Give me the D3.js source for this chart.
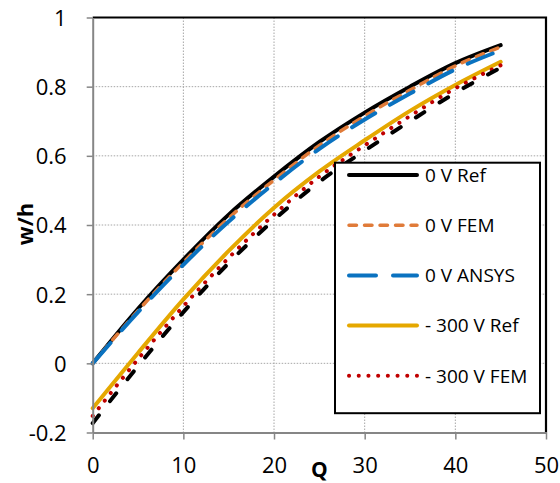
<!DOCTYPE html>
<html>
<head>
<meta charset="utf-8">
<script src="https://cdn.jsdelivr.net/npm/d3@7"></script>
<style>
  body { margin: 0; background: #fff; }
  svg { font-family: "Open Sans", sans-serif; }
</style>
</head>
<body>
<svg id="chart" width="560" height="483"></svg>
<script>
// data
const qValues = [0, 5, 10, 15, 20, 25, 30, 35, 40, 45]
const ref0 = [0, 0.158, 0.30, 0.43, 0.54, 0.64, 0.725, 0.80, 0.868, 0.92]
const fem0 = [0, 0.152, 0.292, 0.42, 0.53, 0.63, 0.715, 0.79, 0.86, 0.915]
const ansys0 = [0, 0.148, 0.285, 0.41, 0.52, 0.62, 0.705, 0.78, 0.85, 0.905]
const ref300 = [-0.13, 0.03, 0.185, 0.325, 0.45, 0.555, 0.645, 0.73, 0.805, 0.872]
const fem300 = [-0.152, 0.012, 0.165, 0.305, 0.43, 0.54, 0.63, 0.715, 0.795, 0.862]
const ansys300 = [-0.173, -0.008, 0.148, 0.29, 0.415, 0.525, 0.615, 0.70, 0.782, 0.855]

const seriesNames = ['0 V Ref', '0 V FEM', '0 V ANSYS', '- 300 V Ref', '- 300 V FEM', '- 300 V ANSYS']
const seriesValues = [ref0, fem0, ansys0, ref300, fem300, ansys300]
const legendNames = ['0 V Ref', '0 V FEM', '0 V ANSYS', '- 300 V Ref', '- 300 V FEM']

const xTicks = [0, 10, 20, 30, 40, 50]
const yTicks = [-0.2, 0, 0.2, 0.4, 0.6, 0.8, 1]

const styles = {
    '0 V Ref': { color: '#000000', width: 4, dash: null, cap: 'round' },
    '0 V FEM': { color: '#E07B39', width: 3.5, dash: '7.5,8', cap: 'round' },
    '0 V ANSYS': { color: '#0A72C0', width: 4, dash: '27,17', cap: 'round' },
    '- 300 V Ref': { color: '#E5A800', width: 4, dash: null, cap: 'round' },
    '- 300 V FEM': { color: '#C00000', width: 4, dash: '0.1,9.6', cap: 'round' },
    '- 300 V ANSYS': { color: '#000000', width: 4, dash: '10,18', cap: 'round' }
}

const margin = { left: 92.7, top: 17.5 }
const width = 453.3
const height = 415

const svg = d3.select('#chart')
const g = svg.append('g').attr('transform', 'translate(' + margin.left + ',' + margin.top + ')')

const x = d3.scaleLinear().domain([0, 50]).range([0, width])
const y = d3.scaleLinear().domain([-0.2, 1]).range([height, 0])

// grid
g.append('g').selectAll('line').data(xTicks.slice(1, -1)).join('line')
    .attr('x1', d => x(d)).attr('x2', d => x(d))
    .attr('y1', 0).attr('y2', height)
    .attr('stroke', '#a6a6a6').attr('stroke-width', 1).attr('stroke-dasharray', '1.5,1.5')
g.append('g').selectAll('line').data(yTicks.slice(1, -1)).join('line')
    .attr('y1', d => y(d)).attr('y2', d => y(d))
    .attr('x1', 0).attr('x2', width)
    .attr('stroke', '#a6a6a6').attr('stroke-width', 1).attr('stroke-dasharray', '1.5,1.5')

// plot border (top/right black)
g.append('path')
    .attr('d', 'M0,0H' + width + 'V' + height)
    .attr('fill', 'none').attr('stroke', '#000').attr('stroke-width', 2.2)

// series
const line = d3.line()
    .x((d, i) => x(qValues[i]))
    .y(d => y(d))
    .curve(d3.curveMonotoneX)

seriesNames.forEach((name, i) => {
    const s = styles[name]
    g.append('path')
        .datum(seriesValues[i])
        .attr('d', line)
        .attr('fill', 'none')
        .attr('stroke', s.color)
        .attr('stroke-width', s.width)
        .attr('stroke-linecap', s.cap)
        .attr('stroke-dasharray', s.dash)
})

// axes
const xAxis = g.append('g').attr('transform', 'translate(0,' + height + ')')
    .call(d3.axisBottom(x).tickValues(xTicks).tickSizeInner(7).tickSizeOuter(0).tickPadding(18).tickFormat(d => String(d)))
const yAxis = g.append('g')
    .call(d3.axisLeft(y).tickValues(yTicks).tickSizeInner(6).tickSizeOuter(0).tickPadding(20).tickFormat(d => String(d)))

;[xAxis, yAxis].forEach(ax => {
    ax.select('.domain').attr('stroke', '#868686').attr('stroke-width', 2)
    ax.selectAll('.tick line').attr('stroke', '#868686').attr('stroke-width', 1.5)
    ax.selectAll('.tick text').attr('font-size', 22).attr('fill', '#000')
        .attr('font-family', '"Open Sans", sans-serif')
})
yAxis.selectAll('.tick text').attr('dy', '0.36em')

// axis titles
svg.append('text')
    .text('w/h')
    .attr('font-size', 22).attr('font-weight', 'bold')
    .attr('text-anchor', 'middle')
    .attr('transform', 'translate(33,224) rotate(-90)')
svg.append('text')
    .text('Q')
    .attr('font-size', 21).attr('font-weight', 'bold')
    .attr('text-anchor', 'middle')
    .attr('x', margin.left + x(25)).attr('y', 477)

// legend
const legend = svg.append('g')
legend.append('rect')
    .attr('x', 335).attr('y', 162.7).attr('width', 205).attr('height', 250.5)
    .attr('fill', '#fff').attr('stroke', '#000').attr('stroke-width', 2)

legendNames.forEach((name, i) => {
    const s = styles[name]
    const ly = 175 + i * 50.2
    legend.append('line')
        .attr('x1', 349).attr('x2', 417).attr('y1', ly).attr('y2', ly)
        .attr('stroke', s.color).attr('stroke-width', s.width)
        .attr('stroke-linecap', s.cap).attr('stroke-dasharray', s.dash)
    legend.append('text')
        .text(name)
        .attr('x', 425).attr('y', ly).attr('dy', '0.36em')
        .attr('font-size', 19)
})
</script>
</body>
</html>
